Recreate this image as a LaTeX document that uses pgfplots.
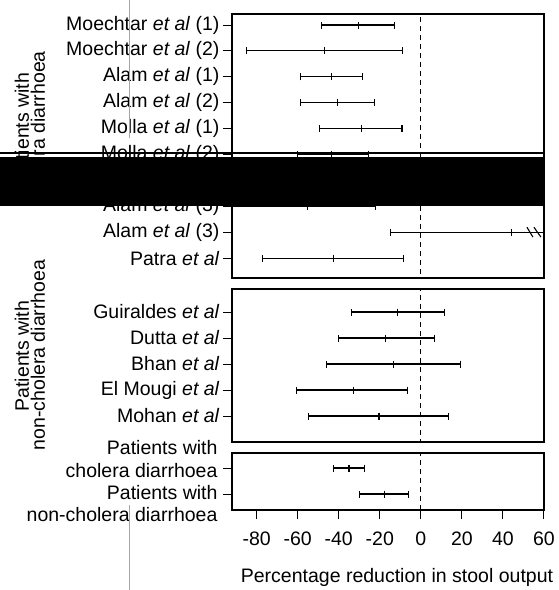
\documentclass[border=0pt]{standalone}
\usepackage{fontspec}
\setmainfont{Liberation Sans}
\usepackage{pgfplots}
\usepackage{pgfplotstable}
\pgfplotsset{compat=1.18}

% rows counted from the top of each panel: lower limit, estimate, upper limit
\pgfplotstableread{
row lo mid hi
1 -48.6 -30.3 -12.9
2 -85.0 -46.8 -8.9
3 -58.6 -43.6 -28.3
4 -58.6 -40.5 -22.5
5 -49.2 -29.0 -9.2
6 -60.0 -43.6 -25.6
7 -50.0 -30.0 -10.0
8 -110.0 -55.0 -22.0
9 -15.0 44.3 80.0
10 -77.3 -42.7 -8.6
}\cholera

\pgfplotstableread{
row lo mid hi
1 -34.0 -11.2 11.5
2 -40.0 -17.1 6.5
3 -46.0 -13.3 19.3
4 -60.6 -33.0 -6.6
5 -54.6 -20.4 13.3
}\noncholera

\pgfplotstableread{
row lo mid hi
1 -42.4 -35.0 -27.4
2 -30.1 -17.8 -6.0
}\pooled

\pgfplotsset{
  panel/.style={
    scale only axis, width=312pt, anchor=north west,
    xmin=-92, xmax=60, y dir=reverse,
    axis line style={line width=1.3pt},
    tick align=outside, major tick length=9pt,
    tick style={black, line width=1pt},
    ytick pos=left, xtick pos=bottom,
    xtick=\empty,
    xticklabel style={yshift=-9pt},
  },
  ci/.style={black, line width=1.1pt, only marks, mark=|, mark size=3.5pt,
    error bars/.cd, x dir=both, x explicit,
    error mark=|,
    error bar style={line width=1.1pt},
    error mark options={black, mark size=3.5pt, line width=1.1pt}},
  zero/.style={black, line width=1pt, dash pattern=on 5pt off 4pt},
}

\begin{document}
\begin{tikzpicture}[font=\fontsize{19.5}{16}\selectfont]
\path[use as bounding box] (0pt,0pt) rectangle (558pt,-590pt);

\begin{axis}[panel, at={(232pt,-14pt)}, height=264pt, ymin=0.575, ymax=10.77,
  ytick={1,...,10},
  yticklabels={Moechtar \textit{et al} (1), Moechtar \textit{et al} (2),
    Alam \textit{et al} (1), Alam \textit{et al} (2),
    Molla \textit{et al} (1), Molla \textit{et al} (2),
    Molla \textit{et al} (3), Alam \textit{et al} (3),
    Alam \textit{et al} (3), Patra \textit{et al}}]
\addplot[zero] coordinates {(0,0) (0,12)};
\addplot[ci] table[x=mid, y=row,
  x error plus expr=\thisrow{hi}-\thisrow{mid},
  x error minus expr=\thisrow{mid}-\thisrow{lo}] {\cholera};
\draw[line width=1.1pt] (axis cs:51.7,8.81) -- (axis cs:54.6,9.19);
\draw[line width=1.1pt] (axis cs:55.1,8.81) -- (axis cs:58.5,9.19);
\end{axis}

\begin{axis}[panel, at={(232pt,-289pt)}, height=153pt, ymin=0.115, ymax=6.0,
  ytick={1,...,5},
  yticklabels={Guiraldes \textit{et al}, Dutta \textit{et al},
    Bhan \textit{et al}, El Mougi \textit{et al}, Mohan \textit{et al}}]
\addplot[zero] coordinates {(0,0) (0,7)};
\addplot[ci] table[x=mid, y=row,
  x error plus expr=\thisrow{hi}-\thisrow{mid},
  x error minus expr=\thisrow{mid}-\thisrow{lo}] {\noncholera};
\end{axis}

\begin{axis}[panel, at={(232pt,-453pt)}, height=57pt, ymin=0.423, ymax=2.615,
  ytick={1,2}, yticklabels={,},
  xtick={-80,-60,-40,-20,0,20,40,60},
  xticklabels={-80,-60,-40,-20,0,20,40,60}]
\addplot[zero] coordinates {(0,0) (0,3)};
\addplot[ci] table[x=mid, y=row,
  x error plus expr=\thisrow{hi}-\thisrow{mid},
  x error minus expr=\thisrow{mid}-\thisrow{lo}] {\pooled};
\end{axis}

\node[anchor=east] at (221pt,-448pt) {Patients with};
\node[anchor=east] at (221pt,-471pt) {cholera diarrhoea};
\node[anchor=east] at (221pt,-493pt) {Patients with};
\node[anchor=east] at (221pt,-515pt) {non-cholera diarrhoea};

\node[rotate=90] at (22pt,-128pt) {Patients with};
\node[rotate=90] at (38pt,-127pt) {cholera diarrhoea};
\node[rotate=90] at (22pt,-356pt) {Patients with};
\node[rotate=90] at (38pt,-355pt) {non-cholera diarrhoea};

\node at (397pt,-577pt) {Percentage reduction in stool output};

% redaction bar and scan line of the source
\fill[black] (0pt,-157pt) rectangle (544pt,-206pt);
\draw[line width=1.2pt] (0pt,-153pt) -- (544pt,-153pt);
\draw[gray!70, line width=0.6pt] (129pt,0pt) -- (129pt,-138pt);
\draw[gray!70, line width=0.6pt] (129pt,-505pt) -- (129pt,-590pt);
\end{tikzpicture}
\end{document}
